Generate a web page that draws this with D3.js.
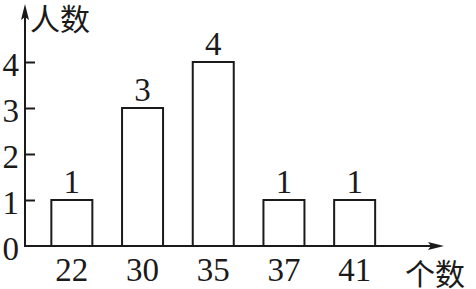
<!DOCTYPE html>
<html><head><meta charset="utf-8">
<script src="https://cdn.jsdelivr.net/npm/d3@7"></script>
<style>
html,body{margin:0;padding:0;background:#fff;}
svg{display:block;}
</style></head>
<body>
<script>
const categories = ["22", "30", "35", "37", "41"];
const counts = [1, 3, 4, 1, 1];
const yTicks = [0, 1, 2, 3, 4];
const yTitle = "人数";
const xTitle = "个数";

const W = 476, H = 289;
const ox = 25, oy = 246;
const svg = d3.select("body").append("svg").attr("width", W).attr("height", H);

const x = d3.scaleBand().domain(categories).range([36.5, 390]).paddingInner(0.42).paddingOuter(0.21);
const y = d3.scaleLinear().domain([0, 4]).range([oy, 62]);

const serif = "'Liberation Serif','Times New Roman',serif";
const cjk = "'Noto Sans CJK SC',sans-serif";
const ink = "#1a1a1a";

// bars
svg.selectAll("rect.bar").data(counts).join("rect")
  .attr("class", "bar")
  .attr("x", (d, i) => x(categories[i]))
  .attr("y", d => y(d))
  .attr("width", x.bandwidth())
  .attr("height", d => oy - y(d))
  .attr("fill", "none").attr("stroke", ink).attr("stroke-width", 2);

// value labels
svg.selectAll("text.val").data(counts).join("text")
  .attr("class", "val")
  .attr("x", (d, i) => x(categories[i]) + x.bandwidth() / 2)
  .attr("y", d => y(d) - 7)
  .attr("text-anchor", "middle")
  .attr("font-family", serif).attr("font-size", 33).attr("fill", ink)
  .text(d => d);

// y axis ticks
const yAxis = d3.axisLeft(y).tickValues(yTicks).tickSizeInner(-10).tickSizeOuter(0).tickPadding(6).tickFormat(d3.format("d"));
const gy = svg.append("g").attr("transform", `translate(${ox},0)`).call(yAxis);
gy.select(".domain").remove();
gy.selectAll(".tick line").attr("stroke", ink).attr("stroke-width", 2)
  .filter(d => d === 0).remove();
gy.selectAll(".tick text").attr("font-family", serif).attr("font-size", 33).attr("fill", ink).attr("dy", "0.42em");

// x axis labels
const xAxis = d3.axisBottom(x).tickSize(0).tickPadding(10);
const gx = svg.append("g").attr("transform", `translate(0,${oy})`).call(xAxis);
gx.select(".domain").remove();
gx.selectAll(".tick text").attr("font-family", serif).attr("font-size", 33).attr("fill", ink).attr("dy", "0.75em");

// axis lines with arrows
svg.append("line").attr("x1", ox).attr("y1", oy).attr("x2", ox).attr("y2", 12)
  .attr("stroke", ink).attr("stroke-width", 2);
svg.append("path").attr("d", `M${ox},4 L${ox-4},20 L${ox},17 L${ox+4},20 Z`).attr("fill", ink);
svg.append("line").attr("x1", ox - 1).attr("y1", oy).attr("x2", 436).attr("y2", oy)
  .attr("stroke", ink).attr("stroke-width", 2);
svg.append("path").attr("d", `M444,${oy} L428,${oy-4} L431,${oy} L428,${oy+4} Z`).attr("fill", ink);

// axis titles
svg.append("text").attr("x", 30).attr("y", 30).attr("font-family", cjk).attr("font-size", 30).attr("fill", ink).text(yTitle);
svg.append("text").attr("x", 405).attr("y", 285).attr("font-family", cjk).attr("font-size", 30).attr("fill", ink).text(xTitle);
</script>
</body></html>
